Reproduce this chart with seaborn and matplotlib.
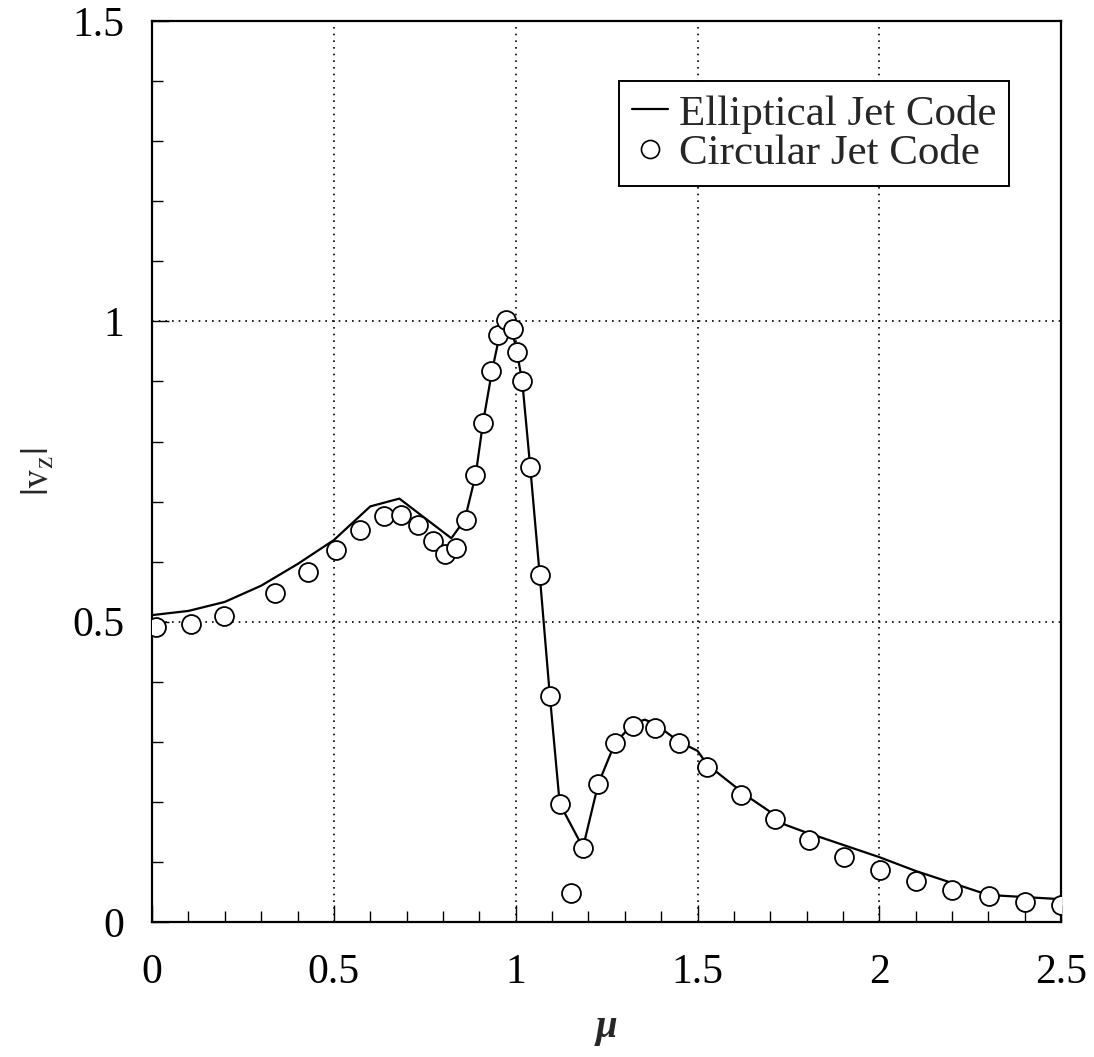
import numpy as np
import pandas as pd
import matplotlib
matplotlib.use("Agg")
import matplotlib.pyplot as plt
from matplotlib.lines import Line2D
from matplotlib.ticker import MultipleLocator
import seaborn as sns

# Elliptical Jet Code (solid line)
ell_mu = [0.0, 0.1, 0.2, 0.3, 0.4, 0.5, 0.6, 0.68, 0.823, 0.86, 0.89, 0.91, 0.935,
          0.955, 0.972, 0.99, 1.003, 1.018, 1.04, 1.066, 1.094, 1.121, 1.185, 1.227,
          1.273, 1.323, 1.355, 1.383, 1.45, 1.5, 1.527, 1.619, 1.645, 1.713, 1.741,
          1.79, 2.0, 2.1, 2.28, 2.33, 2.5]
ell_v = [0.511, 0.518, 0.533, 0.56, 0.596, 0.636, 0.692, 0.705, 0.639, 0.67, 0.745,
         0.831, 0.918, 0.975, 0.995, 0.985, 0.95, 0.9, 0.757, 0.578, 0.376, 0.197,
         0.124, 0.23, 0.298, 0.33, 0.337, 0.33, 0.3, 0.285, 0.262, 0.218, 0.206,
         0.178, 0.162, 0.151, 0.108, 0.085, 0.049, 0.044, 0.038]

# Circular Jet Code (open circles)
circ_mu = [0.01, 0.107, 0.198, 0.338, 0.43, 0.506, 0.573, 0.639, 0.685, 0.731, 0.772,
           0.806, 0.837, 0.862, 0.889, 0.91, 0.933, 0.951, 0.972, 0.993, 1.004, 1.016,
           1.04, 1.066, 1.094, 1.121, 1.153, 1.185, 1.227, 1.273, 1.323, 1.383, 1.45,
           1.527, 1.619, 1.713, 1.807, 1.904, 2.001, 2.101, 2.201, 2.302, 2.4, 2.499]
circ_v = [0.491, 0.497, 0.51, 0.547, 0.582, 0.62, 0.652, 0.676, 0.677, 0.661, 0.634,
          0.613, 0.623, 0.67, 0.745, 0.831, 0.918, 0.978, 1.003, 0.988, 0.949, 0.9,
          0.757, 0.578, 0.376, 0.197, 0.049, 0.124, 0.23, 0.298, 0.327, 0.323, 0.298,
          0.258, 0.212, 0.171, 0.137, 0.109, 0.087, 0.069, 0.054, 0.043, 0.034, 0.028]

x_ticks = [0, 0.5, 1, 1.5, 2, 2.5]
x_tick_labels = ["0", "0.5", "1", "1.5", "2", "2.5"]
y_ticks = [0, 0.5, 1, 1.5]
y_tick_labels = ["0", "0.5", "1", "1.5"]
legend_labels = ["Elliptical Jet Code", "Circular Jet Code"]

sns.set_theme(style="white")
plt.rcParams["font.family"] = ["Liberation Serif", "DejaVu Serif"]
plt.rcParams["mathtext.fontset"] = "stix"

fig = plt.figure(figsize=(10.94, 10.57), dpi=100)
ax = fig.add_axes([0.139, 0.1277, 0.831, 0.8523])

df_ell = pd.DataFrame({"mu": ell_mu, "v": ell_v})
df_circ = pd.DataFrame({"mu": circ_mu, "v": circ_v})

sns.lineplot(data=df_ell, x="mu", y="v", ax=ax, color="black", linewidth=1.6,
             sort=False, estimator=None, zorder=3)
sns.scatterplot(data=df_circ, x="mu", y="v", ax=ax, s=185, marker="o",
                facecolor="white", edgecolor="black", linewidth=1.3, zorder=4)

ax.set_xlim(0, 2.5)
ax.set_ylim(0, 1.5)
ax.set_xticks(x_ticks)
ax.set_xticklabels(x_tick_labels)
ax.set_yticks(y_ticks)
ax.set_yticklabels(y_tick_labels)
ax.xaxis.set_minor_locator(MultipleLocator(0.1))
ax.yaxis.set_minor_locator(MultipleLocator(0.1))
ax.tick_params(axis="both", which="major", direction="in", length=12, width=1.0,
               labelsize=30, color="black", labelcolor="black",
               bottom=True, left=True, top=False, right=False)
ax.tick_params(axis="both", which="minor", direction="in", length=8, width=1.0,
               color="black", bottom=True, left=True, top=False, right=False)
ax.tick_params(axis="y", which="major", pad=20)
ax.tick_params(axis="x", which="major", pad=23)

ax.grid(True, which="major", linestyle=(0, (1, 3)), color="black", linewidth=1.2)
for sp in ax.spines.values():
    sp.set_color("black")
    sp.set_linewidth(1.6)

ax.set_xlabel("μ", fontsize=28, fontstyle="italic", fontweight="bold", labelpad=12)
ax.set_ylabel(r"$|\mathrm{v}_\mathrm{z}|$", fontsize=28, labelpad=10)

handles = [Line2D([], [], color="black", linewidth=1.6),
           Line2D([], [], linestyle="none", marker="o", markersize=13,
                  markerfacecolor="white", markeredgecolor="black", markeredgewidth=1.2)]
leg = ax.legend(handles, legend_labels, loc="upper right", bbox_to_anchor=(0.943, 0.933),
                borderaxespad=0, fontsize=31, frameon=True, fancybox=False,
                edgecolor="black", framealpha=1, handlelength=0.85, handletextpad=0.25,
                borderpad=0.3, labelspacing=0.0)
leg.get_frame().set_linewidth(1.4)

fig.savefig("out.png", dpi=100)
